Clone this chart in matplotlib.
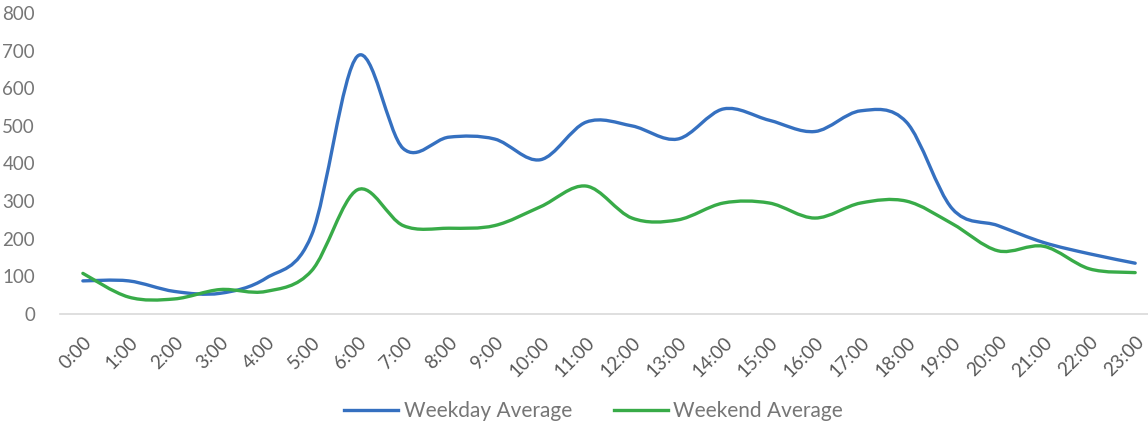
import matplotlib
matplotlib.use("Agg")
import matplotlib.pyplot as plt
from matplotlib.path import Path
from matplotlib.patches import PathPatch
from matplotlib.lines import Line2D

hours = ["%d:00" % h for h in range(24)]
weekday = [88, 88, 60, 55, 95, 210, 685, 440, 470, 465, 410, 510,
           500, 465, 545, 515, 485, 540, 510, 280, 235, 190, 160, 135]
weekend = [108, 45, 40, 65, 60, 115, 330, 235, 228, 235, 285, 340,
           255, 250, 295, 295, 255, 295, 300, 240, 168, 180, 120, 110]


def smooth_path(xs, ys, t=1.0 / 6):
    # excel-like smoothed line: cubic bezier segments through each point
    verts = [(xs[0], ys[0])]
    codes = [Path.MOVETO]
    n = len(xs)
    for i in range(n - 1):
        x0, y0 = xs[max(i - 1, 0)], ys[max(i - 1, 0)]
        x1, y1 = xs[i], ys[i]
        x2, y2 = xs[i + 1], ys[i + 1]
        x3, y3 = xs[min(i + 2, n - 1)], ys[min(i + 2, n - 1)]
        c1 = (x1 + (x2 - x0) * t, y1 + (y2 - y0) * t)
        c2 = (x2 - (x3 - x1) * t, y2 - (y3 - y1) * t)
        verts += [c1, c2, (x2, y2)]
        codes += [Path.CURVE4] * 3
    return Path(verts, codes)


plt.rcParams['font.family'] = ['Lato', 'DejaVu Sans']
fig = plt.figure(figsize=(11.48, 4.29), dpi=100)
ax = fig.add_axes([60 / 1148, 115 / 429, 1088 / 1148, 301 / 429])

x = list(range(len(hours)))
blue = '#3570C0'
green = '#38AB48'
for ys, col in [(weekday, blue), (weekend, green)]:
    ax.add_patch(PathPatch(smooth_path(x, ys), facecolor='none',
                           edgecolor=col, lw=2.4, capstyle='round'))

ax.set_xlim(-0.5, 23.28)
ax.set_ylim(0, 800)
ax.set_yticks(range(0, 801, 100))
ax.set_xticks(x)
ax.set_xticklabels(hours, rotation=45, ha='right', rotation_mode='anchor')
ax.tick_params(axis='both', length=0, labelsize=13.5)
ax.tick_params(axis='x', pad=14, colors='#595959')
ax.tick_params(axis='y', pad=18, colors='#767676')
for s in ['top', 'right', 'left']:
    ax.spines[s].set_visible(False)
ax.spines['bottom'].set_color('#D9D9D9')
ax.spines['bottom'].set_linewidth(1.2)

handles = [Line2D([], [], color=blue, lw=2.4),
           Line2D([], [], color=green, lw=2.4)]
fig.legend(handles, ["Weekday Average", "Weekend Average"], loc='lower center',
           bbox_to_anchor=(0.517, -0.025), ncol=2, frameon=False, fontsize=15,
           labelcolor='#767676', handlelength=2.6, handletextpad=0.25,
           columnspacing=2.0)

fig.savefig("out.png", dpi=100)
